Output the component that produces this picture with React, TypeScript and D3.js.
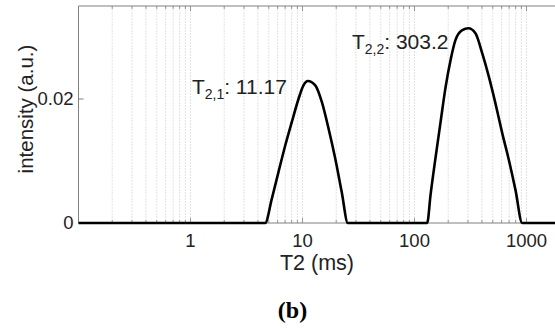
import * as d3 from 'd3'

const WIDTH = 555
const HEIGHT = 329
const DECADE = 112

// T2 (ms) and intensity
const t2 = [
  0.1, 4.64, 5.32, 6.1, 7.01, 8.03, 9.21, 10.2, 11.17, 13.0, 14.9, 17.1, 19.6, 22.4, 25.4,
  129.8, 139, 154, 171, 189, 210, 232, 267, 303.2, 350, 402, 461, 528, 607, 695, 798, 915, 2000,
]
const intensity = [
  0, 0, 0.0039, 0.0082, 0.0125, 0.0163, 0.02, 0.0222, 0.0229, 0.0222, 0.0195, 0.0152, 0.0104, 0.005, 0,
  0, 0.0045, 0.0105, 0.0163, 0.0218, 0.0263, 0.0295, 0.0311, 0.0314, 0.0306, 0.0274, 0.0236, 0.0193,
  0.0145, 0.0102, 0.0053, 0, 0,
]
const xTickLabels = [1, 10, 100, 1000]
const yTickLabels = [0, 0.02]
const peaks = [
  {sub: '2,1', t: 11.17, v: 0.0229, label: ': 11.17', dx: -21, dy: 13},
  {sub: '2,2', t: 303.2, v: 0.0314, label: ': 303.2', dx: -20, dy: 21},
]

const LEFT = 78.5
const TOP = 6
const BOTTOM = 223

export default function App() {
  const xScale = d3
    .scaleLog()
    .domain([0.1, 2000])
    .range([LEFT, LEFT + DECADE * Math.log10(20000)])
  const yScale = d3.scaleLinear().domain([0, 0.035]).range([BOTTOM, TOP])
  const x1 = xScale.range()[1]

  const line = d3
    .line<number>()
    .x((_, i) => xScale(t2[i]))
    .y(d => yScale(d))
    .curve(d3.curveMonotoneX)

  const minor = xScale.ticks()

  return (
    <svg
      width={WIDTH}
      height={HEIGHT}
      style={{position: 'absolute', left: 0, top: 0, background: '#fff'}}
      fontFamily="'Liberation Sans', Arial, sans-serif">
      <rect width={WIDTH} height={HEIGHT} fill="#fff" />
      {/* grid */}
      {minor.map((v, i) => (
        <line
          key={'g' + i}
          x1={xScale(v)}
          x2={xScale(v)}
          y1={TOP}
          y2={BOTTOM}
          stroke="#d6d6d6"
          strokeWidth={0.7}
          strokeDasharray="2,1"
        />
      ))}
      {/* ticks top/bottom */}
      {minor.map((v, i) => {
        const major = xTickLabels.includes(v) || v === 0.1
        const len = major ? 5 : 3
        return (
          <g key={'t' + i} stroke="#808080" strokeWidth={0.8}>
            <line x1={xScale(v)} x2={xScale(v)} y1={BOTTOM} y2={BOTTOM - len} />
            <line x1={xScale(v)} x2={xScale(v)} y1={TOP} y2={TOP + len} />
          </g>
        )
      })}
      {/* frame */}
      <g stroke="#808080" strokeWidth={1} fill="none">
        <line x1={LEFT} x2={x1} y1={TOP} y2={TOP} />
        <line x1={LEFT} x2={x1} y1={BOTTOM} y2={BOTTOM} />
        <line x1={LEFT} x2={LEFT} y1={TOP} y2={BOTTOM} />
        <line x1={x1} x2={x1} y1={TOP} y2={BOTTOM} />
        {yTickLabels.map(v => (
          <g key={v}>
            <line x1={LEFT} x2={LEFT + 5} y1={yScale(v)} y2={yScale(v)} />
            <line x1={x1} x2={x1 - 5} y1={yScale(v)} y2={yScale(v)} />
          </g>
        ))}
      </g>
      {/* data */}
      <path d={line(intensity) || ''} fill="none" stroke="#000" strokeWidth={2.6} strokeLinejoin="round" />
      {/* tick labels */}
      {xTickLabels.map(v => (
        <text key={v} x={xScale(v)} y={BOTTOM + 24} textAnchor="middle" fontSize={18.5} fill="#222">
          {v}
        </text>
      ))}
      {yTickLabels.map(v => (
        <text
          key={v}
          x={LEFT - 5}
          y={yScale(v)}
          dy="0.35em"
          textAnchor="end"
          fontSize={18.5}
          fill="#222">
          {v}
        </text>
      ))}
      {/* axis labels */}
      <text x={317} y={270} textAnchor="middle" fontSize={21.5} fill="#222">
        T2 (ms)
      </text>
      <text
        transform={`translate(33,${109}) rotate(-90)`}
        textAnchor="middle"
        fontSize={20.5}
        fill="#222">
        intensity (a.u.)
      </text>
      {/* peak annotations */}
      {peaks.map(p => (
        <text
          key={p.sub}
          x={xScale(p.t) + p.dx}
          y={yScale(p.v) + p.dy}
          textAnchor="end"
          fontSize={21}
          fill="#222">
          T
          <tspan fontSize={14} dy={5}>
            {p.sub}
          </tspan>
          <tspan dy={-5}>{p.label}</tspan>
        </text>
      ))}
      <text
        x={292.5}
        y={318}
        textAnchor="middle"
        fontSize={24}
        fontWeight="bold"
        fontFamily="'Liberation Serif', 'Times New Roman', serif">
        (b)
      </text>
    </svg>
  )
}
